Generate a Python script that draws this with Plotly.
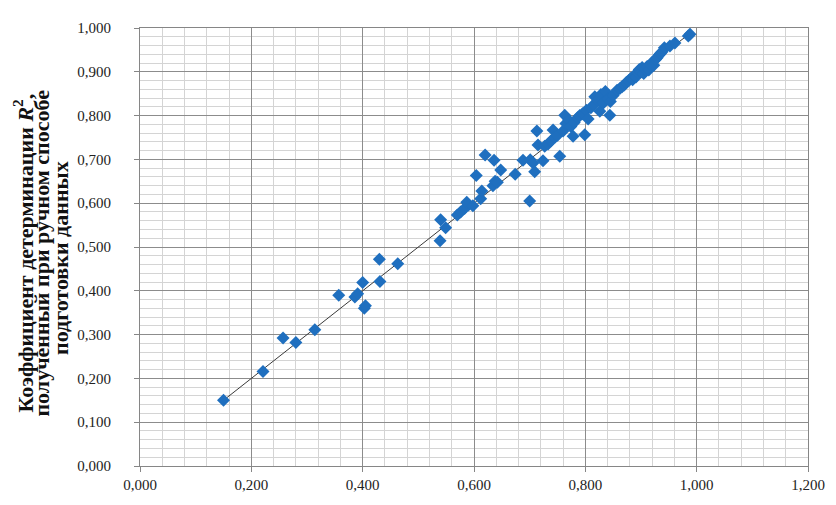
import plotly.graph_objs as go

# R2 for automatic preparation (x) vs manual preparation (y)
r2_auto = [
    0.150, 0.221, 0.257, 0.280, 0.314, 0.357, 0.386, 0.391, 0.400, 0.403,
    0.405, 0.430, 0.431, 0.463, 0.540, 0.539, 0.549, 0.570, 0.576, 0.583,
    0.590, 0.587, 0.598, 0.604, 0.612, 0.614, 0.620, 0.636, 0.634, 0.638,
    0.648, 0.642, 0.674, 0.688, 0.700, 0.701, 0.706, 0.709, 0.713, 0.715,
    0.724, 0.727, 0.733, 0.738, 0.742, 0.745, 0.750, 0.754, 0.760, 0.763,
    0.765, 0.770, 0.774, 0.778, 0.780, 0.786, 0.790, 0.795, 0.799, 0.802,
    0.805, 0.810, 0.815, 0.817, 0.822, 0.826, 0.828, 0.832, 0.836, 0.840,
    0.844, 0.845, 0.850, 0.857, 0.862, 0.866, 0.870, 0.874, 0.878, 0.882,
    0.885, 0.888, 0.891, 0.894, 0.897, 0.900, 0.902, 0.905, 0.908, 0.911,
    0.914, 0.917, 0.920, 0.923, 0.926, 0.929, 0.932, 0.935, 0.938, 0.942,
    0.952, 0.961, 0.985, 0.988,
]
r2_manual = [
    0.150, 0.216, 0.292, 0.282, 0.311, 0.390, 0.386, 0.393, 0.419, 0.360,
    0.366, 0.472, 0.421, 0.462, 0.562, 0.514, 0.544, 0.573, 0.580, 0.588,
    0.596, 0.602, 0.594, 0.663, 0.610, 0.628, 0.710, 0.698, 0.640, 0.650,
    0.676, 0.648, 0.666, 0.698, 0.605, 0.699, 0.692, 0.672, 0.765, 0.733,
    0.697, 0.730, 0.735, 0.742, 0.767, 0.750, 0.755, 0.707, 0.765, 0.801,
    0.782, 0.790, 0.775, 0.753, 0.784, 0.795, 0.800, 0.804, 0.756, 0.812,
    0.792, 0.818, 0.825, 0.843, 0.835, 0.810, 0.848, 0.828, 0.855, 0.838,
    0.801, 0.832, 0.846, 0.858, 0.862, 0.866, 0.870, 0.876, 0.880, 0.885,
    0.882, 0.892, 0.888, 0.898, 0.905, 0.900, 0.910, 0.896, 0.906, 0.912,
    0.904, 0.916, 0.922, 0.915, 0.928, 0.932, 0.938, 0.942, 0.946, 0.955,
    0.959, 0.966, 0.982, 0.986,
]

# trend line ends
trend_x = [0.150, 0.988]
trend_y = [0.150, 0.988]

# y axis title, one entry per line
titleLines = [
    'Коэффициент детерминации <i>R</i><sup>2</sup>,',
    'полученный при ручном способе',
    'подготовки данных',
]

fontFamily = 'Liberation Serif'

data = [
    go.Scatter(
        x=trend_x, y=trend_y, mode='lines',
        line=dict(color='#3a3a3a', width=1),
        hoverinfo='skip', showlegend=False,
    ),
    go.Scatter(
        x=r2_auto, y=r2_manual, mode='markers',
        marker=dict(symbol='diamond', size=10, color='#1f6fbf'),
        showlegend=False,
    ),
]

# the page body adds 8px, so margins are shifted by that much
annotations = []
for i, line in enumerate(titleLines):
    annotations.append(dict(
        text=line,
        xref='paper', yref='paper', x=0, y=[0.485, 0.485, 0.475][i],
        xanchor='center', yanchor='middle',
        xshift=[-117, -98, -79][i],
        textangle=-90, showarrow=False,
        font=dict(family=fontFamily, size=22, color='#111111', weight='bold'),
    ))

axisStyle = dict(
    tickformat='.3f',
    showgrid=True, gridcolor='#8c8c8c', gridwidth=1,
    showline=True, linecolor='#868686', mirror=True,
    ticks='outside', ticklen=5, tickcolor='#868686',
    tickfont=dict(family=fontFamily, size=15, color='#222222'),
    zeroline=False,
)

layout = go.Layout(
    width=836, height=505,
    margin=dict(l=132, r=36, t=16, b=47),
    paper_bgcolor='white', plot_bgcolor='white',
    separators=', ',
    font=dict(family=fontFamily, size=15, color='#222222'),
    xaxis=dict(
        range=[0, 1.2], dtick=0.2,
        minor=dict(dtick=0.04, showgrid=True, gridcolor='#d4d4d4', gridwidth=1),
        **axisStyle
    ),
    yaxis=dict(
        range=[0, 1.0], dtick=0.1, ticklabelstandoff=20,
        minor=dict(dtick=0.02, showgrid=True, gridcolor='#d4d4d4', gridwidth=1),
        **axisStyle
    ),
    annotations=annotations,
)

fig = go.Figure(data=data, layout=layout)
fig.write_html('out.html')
